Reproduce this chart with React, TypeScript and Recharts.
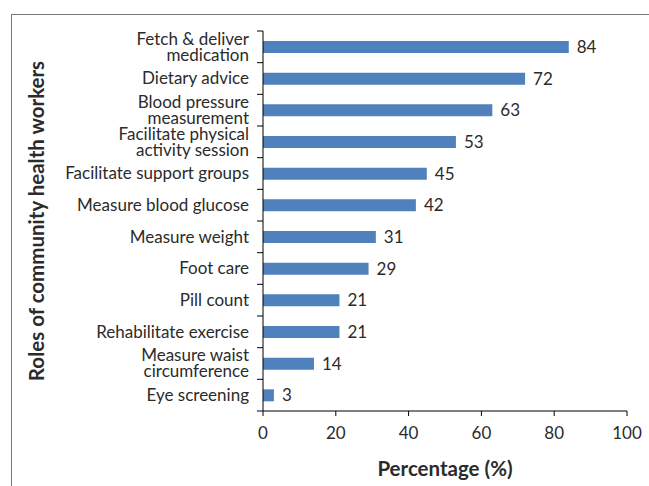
import { BarChart, Bar, XAxis, YAxis, LabelList } from "recharts"

const roles = [
  "Fetch & deliver\nmedication",
  "Dietary advice",
  "Blood pressure\nmeasurement",
  "Facilitate physical\nactivity session",
  "Facilitate support groups",
  "Measure blood glucose",
  "Measure weight",
  "Foot care",
  "Pill count",
  "Rehabilitate exercise",
  "Measure waist\ncircumference",
  "Eye screening",
]
const percentages = [84, 72, 63, 53, 45, 42, 31, 29, 21, 21, 14, 3]
const xTicks = [0, 20, 40, 60, 80, 100]

const data = roles.map((role, i) => ({ role, value: percentages[i] }))

const W = 649
const H = 486
const margin = { top: 31, right: 22, bottom: 0, left: 0 }
const yAxisWidth = 263
const xAxisHeight = 75
const axisX = margin.left + yAxisWidth
const band = (H - margin.top - margin.bottom - xAxisHeight) / roles.length
const font = "Lato, sans-serif"
const textColor = "#2b2b2b"

function RoleTick(props: any) {
  const { y, payload, index } = props
  const lines = String(payload.value).split("\n")
  const lh = 16
  const y0 = y - ((lines.length - 1) * lh) / 2
  return (
    <g>
      <line x1={axisX - 6} x2={axisX} y1={y - band / 2} y2={y - band / 2} stroke="#000" />
      {index === roles.length - 1 && (
        <line x1={axisX - 6} x2={axisX} y1={y + band / 2} y2={y + band / 2} stroke="#000" />
      )}
      <text x={axisX - 14} y={y0} textAnchor="end" fontSize={17} fill={textColor} fontFamily={font}>
        {lines.map((l, i) => (
          <tspan key={i} x={axisX - 14} y={y0 + i * lh} dy="0.35em">
            {l}
          </tspan>
        ))}
      </text>
    </g>
  )
}

export default function App() {
  return (
    <div style={{ position: "absolute", left: 0, top: 0, width: W, height: H, overflow: "hidden", background: "#fff" }}>
      <div
        style={{
          position: "absolute",
          left: 11,
          top: 14,
          width: 700,
          height: 500,
          borderLeft: "1px solid #777",
          borderTop: "1px solid #777",
        }}
      />
      <div style={{ position: "absolute", left: 0, top: 0 }}>
        <BarChart width={W} height={H} data={data} layout="vertical" margin={margin} barSize={12}>
          <XAxis
            type="number"
            domain={[0, 100]}
            ticks={xTicks}
            height={xAxisHeight}
            axisLine={{ stroke: "#000" }}
            tickLine={{ stroke: "#000" }}
            tickSize={5}
            tickMargin={11}
            tick={{ fontSize: 17, fill: textColor, fontFamily: font }}
            label={{
              value: "Percentage (%)",
              position: "insideBottom",
              offset: 10,
              style: { fontSize: 20.5, fontWeight: "bold", fill: textColor, fontFamily: font },
            }}
          />
          <YAxis
            type="category"
            dataKey="role"
            width={yAxisWidth}
            interval={0}
            axisLine={{ stroke: "#000" }}
            tickLine={false}
            tick={<RoleTick />}
            label={{
              value: "Roles of community health workers",
              angle: -90,
              position: "insideLeft",
              offset: 37,
              style: { fontSize: 20.5, fontWeight: "bold", fill: textColor, fontFamily: font, textAnchor: "middle" },
            }}
          />
          <Bar dataKey="value" fill="#4f81bd" isAnimationActive={false}>
            <LabelList dataKey="value" position="right" offset={8} fontSize={17} fill={textColor} fontFamily={font} />
          </Bar>
        </BarChart>
      </div>
    </div>
  )
}
